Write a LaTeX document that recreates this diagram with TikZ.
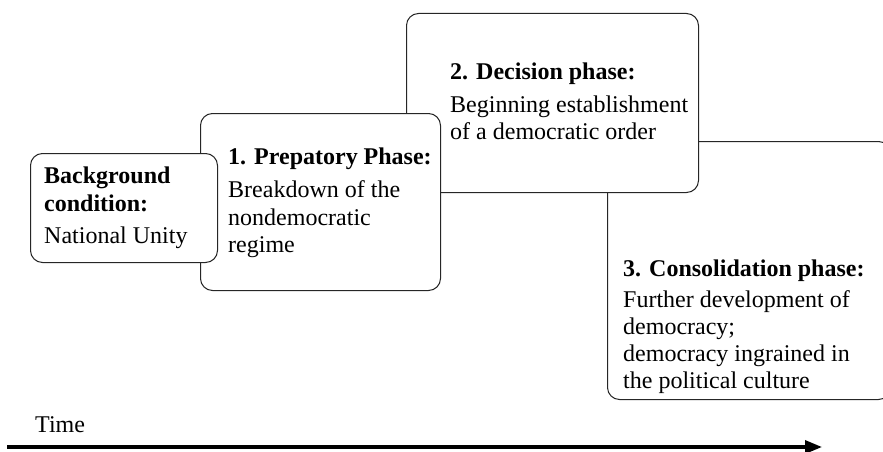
\documentclass[tikz,border=0pt]{standalone}
\usepackage{fontspec}
\setmainfont{Liberation Serif}
\usetikzlibrary{arrows.meta}
\begin{document}
\begin{tikzpicture}[x=1pt,y=-1pt,
  phasebox/.style={draw=black!85, line width=1pt, fill=white, rounded corners=12pt, inner sep=0pt, anchor=north west},
  ttl/.style={anchor=base west, inner sep=0pt, font=\fontsize{24}{27.5}\selectfont\bfseries},
  txt/.style={anchor=base west, inner sep=0pt, font=\fontsize{24}{27.5}\selectfont},
]
\useasboundingbox (0,0) rectangle (883,452);
\clip (0,0) rectangle (883,452);
% boxes, back to front
\node[phasebox, minimum width=283pt, minimum height=258pt] (b3) at (607,141) {};
\node[phasebox, minimum width=292pt, minimum height=179pt] (b2) at (406,13) {};
\node[phasebox, minimum width=240pt, minimum height=177pt] (b1) at (200,113) {};
\node[phasebox, minimum width=187pt, minimum height=109pt] (b0) at (30,153) {};
% box 0
\node[ttl] (t0a) at (44,183) {Background};
\node[ttl] (t0b) at (44,211) {condition:};
\node[txt] (t0c) at (44,243) {National Unity};
% box 1
\node[ttl] (t1a) at (228,164) {1. Prepatory Phase:};
\node[txt] (t1b) at (228,197) {Breakdown of the};
\node[txt] (t1c) at (228,225) {nondemocratic};
\node[txt] (t1d) at (228,252) {regime};
% box 2
\node[ttl] (t2a) at (450,79) {2. Decision phase:};
\node[txt] (t2b) at (450,112) {Beginning establishment};
\node[txt] (t2c) at (450,139) {of a democratic order};
% box 3
\node[ttl] (t3a) at (623,276) {3. Consolidation phase:};
\node[txt] (t3b) at (623,307) {Further development of};
\node[txt] (t3c) at (623,334) {democracy;};
\node[txt] (t3d) at (623,361) {democracy ingrained in};
\node[txt] (t3e) at (623,388) {the political culture};
% time axis
\node[txt] (time) at (35,432) {Time};
\coordinate (ts) at (7,447);
\coordinate (te) at (822,447);
\draw[line width=3.3pt, -{Triangle[length=17pt,width=13pt]}] (ts) -- (te);
\end{tikzpicture}
\end{document}
